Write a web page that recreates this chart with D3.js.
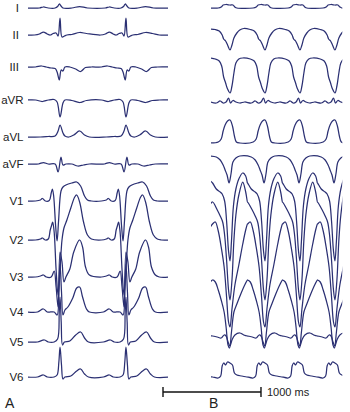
<!DOCTYPE html>
<html><head><meta charset="utf-8">
<script src="https://cdn.jsdelivr.net/npm/d3@7"></script>
<style>html,body{margin:0;padding:0;background:#fff}svg{display:block}</style>
</head><body>
<svg id="c" width="350" height="412"></svg>
<script>
// ---- data ----
const leads = ["I","II","III","aVR","aVL","aVF","V1","V2","V3","V4","V5","V6"];
// beat (QRS) times in ms for each panel
const beatsA = [327, 1000];
const beatsB = [194, 551, 908, 1265];
// panel A beat templates: [ms relative to QRS, amplitude units]
const aI   = [[-340,0],[-210,0],[-170,1],[-120,0],[-50,0],[-25,1.5],[-8,4],[10,2],[30,0],[120,0],[200,1.5],[280,0],[450,0]];
const aII  = [[-340,0],[-260,0],[-210,1],[-170,3],[-130,1],[-100,0],[-70,1.5],[-40,2],[-20,-1],[0,17],[20,-2],[45,-1],[70,0],[120,0.5],[200,2.5],[270,1.5],[340,0],[450,0]];
const aIII = [[-340,0],[-250,0],[-190,1],[-140,0],[-90,-1],[-50,-1.5],[-30,-5],[-8,-13],[12,-3],[30,-4],[50,0],[100,0],[160,-2],[210,-4.5],[260,-0.5],[320,0],[450,0]];
const aVR  = [[-340,0],[-250,0],[-180,-1.5],[-120,0],[-60,0.5],[-30,-2],[0,-17],[30,-3],[50,0],[120,-0.5],[200,-2.5],[270,-0.5],[340,0],[450,0]];
const aVL  = [[-340,0],[-200,0],[-120,0.5],[-50,1],[-20,6],[0,12],[30,4],[50,1],[90,0],[140,2],[200,6],[250,2],[300,0],[450,0]];
const aVF  = [[-340,0],[-220,0],[-170,1.5],[-120,0],[-50,0],[-20,-8],[10,7],[30,-1],[60,0],[120,0],[180,-2],[240,-1],[300,0],[450,0]];
const aV1  = [[-340,0],[-250,0],[-200,1],[-180,2.5],[-150,0],[-110,0.5],[-90,8],[-78,12],[-65,5],[-45,-25],[-30,-40],[-15,-20],[10,10],[30,14],[60,16],[120,18],[170,19],[210,15],[250,5],[280,1],[320,0],[450,0]];
const aV2  = [[-340,0],[-250,0],[-200,1],[-180,2],[-150,0],[-120,1],[-100,10],[-85,15],[-75,18],[-60,8],[-40,-30],[-20,-55],[0,-30],[20,0],[40,12],[70,20],[110,32],[150,43],[170,45],[200,38],[240,18],[280,5],[320,1],[360,0],[450,0]];
const aV3  = [[-340,0],[-250,0],[-200,1],[-170,2],[-140,0],[-90,0],[-60,6],[-40,-10],[-20,-30],[0,25],[20,15],[40,-5],[60,0],[100,8],[140,25],[200,37],[230,30],[260,10],[300,2],[340,0],[450,0]];
const aV4  = [[-340,0],[-230,0],[-170,3],[-130,0],[-60,0],[-30,-3],[-10,30],[0,48],[15,20],[30,-3],[50,2],[80,5],[130,14],[170,24],[200,25],[230,15],[270,3],[300,0],[450,0]];
const aV5  = [[-340,0],[-230,0],[-160,2],[-120,0],[-60,0],[-25,3],[-8,30],[0,45],[12,20],[25,-3],[45,0],[100,1],[160,7],[210,10],[250,4],[290,0],[450,0]];
const aV6  = [[-340,0],[-230,0],[-170,2],[-130,0],[-60,0],[-30,2],[-12,15],[0,30],[15,12],[30,-2],[50,0],[110,1],[170,6],[210,8],[250,3],[290,0],[450,0]];
// panel B beat templates
const bI   = [[-200,0],[-120,0],[-90,1],[-70,3],[-40,3.5],[0,3],[30,3],[50,1],[70,0],[200,0]];
const bII  = [[-200,0],[-150,-0.5],[-110,-2],[-80,-6],[-65,-10],[-45,-12],[-25,-16],[0,-21],[20,-16],[40,-9],[70,-4],[100,-1],[140,0.5],[200,0]];
const bIII = [[-200,0],[-150,-1],[-110,-3],[-85,-8],[-65,-19],[-45,-25],[-25,-31],[0,-35],[20,-28],[40,-15],[60,-5],[90,-1],[130,0],[200,0]];
const bVR  = [[-200,0],[-140,-1],[-100,1],[-70,-1],[-40,0],[-15,4],[5,-1],[30,1.5],[60,0],[100,-1],[150,0],[200,0]];
const bVL  = [[-200,0],[-120,1],[-90,4],[-70,12],[-50,18],[-25,22],[0,23],[25,17],[45,7],[65,1],[100,0],[200,0]];
const bVF  = [[-200,0],[-140,-1],[-100,-4],[-70,-9],[-50,-14],[-30,-19],[-10,-27],[10,-18],[30,-6],[60,-2],[100,0],[200,0]];
const bV1  = [[-200,20],[-178,18],[-140,12],[-100,9],[-80,7],[-55,0],[-35,-20],[-15,-50],[0,-60],[15,-40],[35,-5],[60,12],[90,22],[130,28],[160,25],[178,18],[200,15]];
const bV2  = [[-200,36],[-178,38],[-130,30],[-100,24],[-75,18],[-55,5],[-35,-20],[-15,-50],[0,-60],[20,-40],[40,0],[60,25],[90,45],[130,58],[160,48],[178,38],[200,34]];
const bV3  = [[-200,50],[-178,53],[-150,55],[-120,46],[-90,30],[-60,10],[-35,-20],[-15,-45],[0,-50],[20,-32],[50,-8],[90,12],[130,33],[160,47],[178,53],[200,55]];
const bV4  = [[-200,30],[-178,32],[-150,30],[-120,22],[-90,12],[-60,0],[-40,-15],[-20,-33],[-5,-36],[15,-20],[40,0],[70,8],[110,18],[150,27],[178,32],[200,30]];
const bV5  = [[-200,2],[-178,2],[-130,1],[-90,0],[-60,3],[-40,2],[-20,-4],[0,-8],[20,-2],[50,3],[100,5],[140,3],[178,2],[200,2]];
const bV6  = [[-200,1],[-178,1],[-120,0],[-95,2],[-80,12],[-65,15],[-45,13],[-25,16],[0,15],[25,13],[45,5],[70,3],[120,2],[178,1],[200,1]];
const templatesA = [aI,aII,aIII,aVR,aVL,aVF,aV1,aV2,aV3,aV4,aV5,aV6];
const templatesB = [bI,bII,bIII,bVR,bVL,bVF,bV1,bV2,bV3,bV4,bV5,bV6];
const scaleBarMs = 1000;

// ---- layout ----
const rowA = [8,35,67,100,137,164,201,240,277,312,342,377];
const rowB = [8,29,58,102,143,156,201,240,277,312,338,378];
const COLOR = "#2b3073";

const svg = d3.select("#c");
svg.append("rect").attr("width",350).attr("height",412).attr("fill","#fff");
const xA = d3.scaleLinear().domain([0,1430]).range([28,168.1]);
const xB = d3.scaleLinear().domain([0,1340]).range([211,342.3]);
const amp = d3.scaleLinear().domain([0,1]).range([0,-1]);

const defs = svg.append("defs");
defs.append("clipPath").attr("id","clipA").append("rect").attr("x",xA.range()[0]).attr("y",0).attr("width",xA.range()[1]-xA.range()[0]).attr("height",412);
defs.append("clipPath").attr("id","clipB").append("rect").attr("x",xB.range()[0]).attr("y",0).attr("width",xB.range()[1]-xB.range()[0]).attr("height",412);

function build(tpl, beats){
  const pts=[];
  beats.forEach((b,i)=>{
    const lo = i ? (beats[i-1]+b)/2 : -Infinity;
    const hi = i<beats.length-1 ? (b+beats[i+1])/2 : Infinity;
    tpl.forEach(([dt,a])=>{const t=b+dt; if(t>=lo && t<hi) pts.push([t,a]);});
  });
  return pts;
}

function drawPanel(x, templates, beats, rows, clipId){
  const g = svg.append("g").attr("clip-path",`url(#${clipId})`);
  templates.forEach((tpl,i)=>{
    const base = rows[i];
    const line = d3.line().x(d=>x(d[0])).y(d=>base+amp(d[1])).curve(d3.curveCatmullRom.alpha(0.5));
    g.append("path").attr("d",line(build(tpl,beats)))
      .attr("fill","none").attr("stroke",COLOR).attr("stroke-width",1.25)
      .attr("stroke-linejoin","round").attr("stroke-linecap","round");
  });
}
drawPanel(xA, templatesA, beatsA, rowA, "clipA");
drawPanel(xB, templatesB, beatsB, rowB, "clipB");

// lead labels
svg.append("g").selectAll("text").data(leads).join("text")
  .attr("x",(d,i)=> i<3 ? 19 : 23.5)
  .attr("y",(d,i)=>rowA[i])
  .attr("dy","0.35em")
  .attr("text-anchor","end")
  .attr("font-family","Liberation Sans, Arial, Helvetica, sans-serif")
  .attr("font-size",11.5).attr("fill","#222")
  .text(d=>d);

// scale bar (1000 ms) using panel-B time scale
const barX0 = 163, barY = 392;
const barLen = xB(scaleBarMs)-xB(0);
const sb = svg.append("g").attr("stroke","#111").attr("stroke-width",1.4);
sb.append("line").attr("x1",barX0).attr("x2",barX0+barLen).attr("y1",barY).attr("y2",barY);
sb.append("line").attr("x1",barX0).attr("x2",barX0).attr("y1",barY-5).attr("y2",barY+5);
sb.append("line").attr("x1",barX0+barLen).attr("x2",barX0+barLen).attr("y1",barY-5).attr("y2",barY+5);
svg.append("text").attr("x",barX0+barLen+6).attr("y",barY+4)
  .attr("font-family","Liberation Sans, Arial, Helvetica, sans-serif").attr("font-size",11).attr("fill","#222")
  .text(scaleBarMs+" ms");

// panel letters
svg.append("text").attr("x",5).attr("y",408).attr("font-family","Liberation Sans, Arial, Helvetica, sans-serif").attr("font-size",14).attr("fill","#222").text("A");
svg.append("text").attr("x",209).attr("y",408).attr("font-family","Liberation Sans, Arial, Helvetica, sans-serif").attr("font-size",14).attr("fill","#222").text("B");
</script>
</body></html>
